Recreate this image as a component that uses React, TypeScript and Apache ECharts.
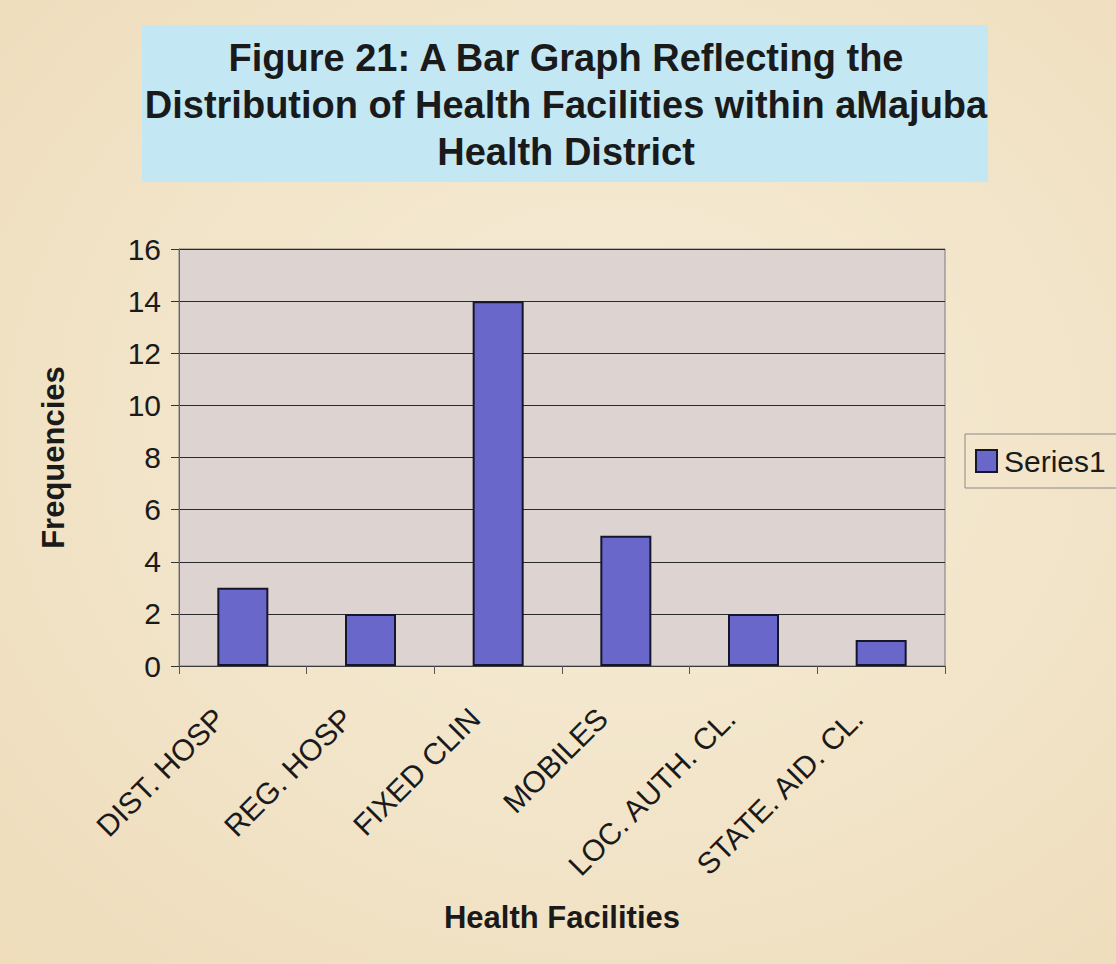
import React, { useEffect, useRef } from "react";
import * as echarts from "echarts";

const categories = ["DIST. HOSP", "REG. HOSP", "FIXED CLIN", "MOBILES", "LOC. AUTH. CL.", "STATE. AID. CL."];
const series1 = [3, 2, 14, 5, 2, 1];
const titleLines = [
  "Figure 21: A Bar Graph Reflecting the",
  "Distribution of Health Facilities within aMajuba",
  "Health District",
];
const yTicks = { min: 0, max: 16, interval: 2 };

const FONT = "'Liberation Sans', Arial, Helvetica, sans-serif";

export default function App() {
  const ref = useRef<HTMLDivElement>(null);
  useEffect(() => {
    document.body.style.margin = "0";
    const chart = echarts.init(ref.current!, null, { renderer: "svg" });
    chart.setOption({
      animation: false,
      backgroundColor: {
        type: "radial",
        x: 0.55,
        y: 0.45,
        r: 0.8,
        colorStops: [
          { offset: 0, color: "#f6edd8" },
          { offset: 1, color: "#eedcba" },
        ],
      },
      textStyle: { fontFamily: FONT },
      graphic: [
        {
          type: "rect",
          z: -1,
          shape: { x: 142, y: 25, width: 846, height: 157 },
          style: { fill: "#c4e8f3" },
        },
      ],
      title: {
        text: titleLines.join("\n"),
        left: 566,
        top: 34,
        textAlign: "center",
        padding: 0,
        textStyle: {
          fontFamily: FONT,
          fontSize: 38,
          fontWeight: "bold",
          lineHeight: 47,
          color: "#1a1a1a",
        },
      },
      legend: {
        left: 965,
        top: 434,
        orient: "vertical",
        padding: [12, 24, 12, 10],
        borderColor: "#8a8a8a",
        borderWidth: 1,
        itemWidth: 21,
        itemHeight: 22,
        icon: "rect",
        textStyle: { fontFamily: FONT, fontSize: 30, color: "#1a1a1a", padding: [0, 0, 0, 2] },
        data: ["Series1"],
      },
      grid: {
        left: 179,
        top: 249,
        right: 171,
        bottom: 298,
        show: true,
        backgroundColor: "#ddd4d2",
        borderColor: "#7a7a7a",
        borderWidth: 1,
        containLabel: false,
      },
      xAxis: {
        type: "category",
        data: categories,
        name: "Health Facilities",
        nameLocation: "middle",
        nameGap: 236,
        nameTextStyle: { fontFamily: FONT, fontSize: 31, fontWeight: "bold", color: "#1a1a1a" },
        axisLine: { show: true, lineStyle: { color: "#3a3a3a", width: 1 } },
        axisTick: { show: true, alignWithLabel: false, length: 8, lineStyle: { color: "#555" } },
        axisLabel: {
          interval: 0,
          rotate: 45,
          margin: 24,
          padding: [0, 33, 0, 0],
          fontFamily: FONT,
          fontSize: 30,
          color: "#1a1a1a",
        },
        splitLine: { show: false },
      },
      yAxis: {
        type: "value",
        min: yTicks.min,
        max: yTicks.max,
        interval: yTicks.interval,
        name: "Frequencies",
        nameLocation: "middle",
        nameGap: 110,
        nameTextStyle: { fontFamily: FONT, fontSize: 31, fontWeight: "bold", color: "#1a1a1a" },
        axisLine: { show: true, lineStyle: { color: "#666", width: 1 } },
        axisTick: { show: true, length: 8, lineStyle: { color: "#333" } },
        axisLabel: { margin: 18, fontFamily: FONT, fontSize: 30, color: "#1a1a1a" },
        splitLine: { show: true, lineStyle: { color: "#2a2a2a", width: 1 } },
      },
      series: [
        {
          name: "Series1",
          type: "bar",
          data: series1,
          barWidth: 51,
          itemStyle: { color: "#6a67ca", borderColor: "#16162a", borderWidth: 2 },
        },
      ],
    });
    return () => chart.dispose();
  }, []);
  return <div ref={ref} style={{ width: 1116, height: 964 }} />;
}
